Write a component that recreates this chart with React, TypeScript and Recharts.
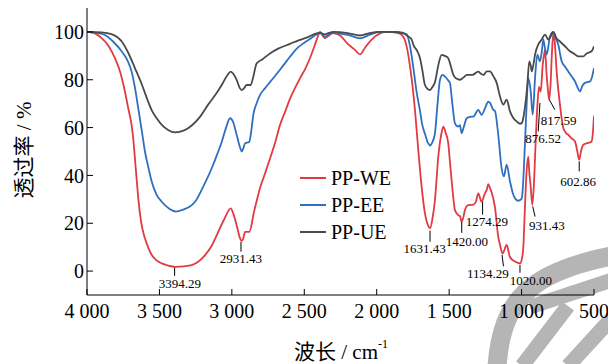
import React from "react";
import {
  Customized,
  Line,
  LineChart,
  ReferenceDot,
  ReferenceLine,
  XAxis,
  YAxis,
} from "recharts";

const SERIF = "'Liberation Serif', 'Times New Roman', 'Noto Sans CJK SC', serif";
const RED = "#e23a43";
const BLUE = "#2e6fc0";
const GRAY = "#4a4a4a";

const xTicks = [4000, 3500, 3000, 2500, 2000, 1500, 1000, 500];
const yTicks = [0, 20, 40, 60, 80, 100];

// PP-WE
const weWavenumber = [
  4000, 3950, 3899, 3850, 3807, 3770, 3738, 3715, 3692, 3680, 3669, 3658, 3646, 3625, 3600, 3575,
  3553, 3520, 3484, 3440, 3392, 3330, 3277, 3230, 3185, 3140, 3094, 3050, 3008, 2990, 2967, 2945,
  2932, 2920, 2909, 2880, 2865, 2852, 2830, 2806, 2770, 2737, 2700, 2668, 2630, 2599, 2560, 2530,
  2490, 2461, 2430, 2403, 2392, 2375, 2357, 2330, 2302, 2253, 2200, 2150, 2115, 2080, 2040, 1977,
  1930, 1850, 1817, 1790, 1770, 1750, 1736, 1713, 1690, 1667, 1645, 1632, 1615, 1598, 1575, 1555,
  1540, 1525, 1506, 1495, 1483, 1470, 1460, 1437, 1425, 1414, 1400, 1391, 1368, 1333, 1315, 1299,
  1276, 1253, 1240, 1230, 1218, 1207, 1184, 1161, 1149, 1131, 1103, 1080, 1045, 1011, 995, 988,
  977, 965, 954, 947, 937, 926, 915, 905, 891, 880, 868, 854, 843, 838, 827, 815,
  809, 800, 792, 781, 770, 758, 735, 712, 690, 678, 655, 631, 615, 602, 590, 574,
  540, 517, 505, 500,
];
const weTransmittance = [
  100, 99.5, 97.4, 94, 89, 83, 75, 68, 61, 55, 47, 39, 30.4, 20, 13.7, 9.5,
  6.7, 4.5, 3.2, 2.3, 1.8, 2, 2.5, 4, 6.7, 10.5, 16.4, 22, 26.2, 24, 19.2, 14,
  12.5, 14, 16.4, 16.4, 19, 23.4, 29, 34.6, 41, 47, 54, 61, 67, 72, 77, 80.6,
  85, 89, 94, 98.7, 100, 98.5, 97.4, 98.5, 99.5, 98.5, 95, 92.5, 90.6, 93.5, 96.5, 99.4,
  100, 99.5, 98, 93, 85.5, 76, 67.4, 50.6, 35.3, 24.1, 19, 17.9, 22, 29.7, 47.8, 57,
  60.4, 58, 53.4, 46, 38, 30, 25.5, 23.4, 23, 20.6, 23, 25.5, 27.6, 27.8, 29, 32.5,
  29, 32.5, 34, 36.4, 34.7, 33, 26.8, 14.3, 11, 7.4, 10.9, 5.8, 4, 3.2, 6, 10,
  26.4, 42, 47.8, 41.7, 35.3, 27.7, 36, 50.6, 69, 77, 75, 86.3, 91, 92.5, 82.1, 74,
  71.7, 78, 89.1, 99.6, 95, 83.5, 69.6, 59.8, 57.5, 57, 55.5, 54.2, 50, 46.6, 50, 52.8,
  53.6, 54.2, 60, 65,
];

// PP-EE
const eeWavenumber = [
  4000, 3930, 3876, 3820, 3760, 3720, 3692, 3670, 3646, 3620, 3600, 3575, 3553, 3520, 3484, 3430,
  3385, 3330, 3290, 3254, 3200, 3139, 3100, 3070, 3040, 3013, 2992, 2967, 2945, 2932, 2920, 2909,
  2880, 2865, 2852, 2830, 2806, 2770, 2737, 2690, 2645, 2600, 2552, 2500, 2461, 2420, 2392, 2375,
  2357, 2330, 2302, 2200, 2115, 2050, 1977, 1850, 1793, 1770, 1747, 1725, 1701, 1685, 1667, 1645,
  1632, 1615, 1598, 1580, 1563, 1545, 1529, 1510, 1494, 1478, 1460, 1437, 1425, 1414, 1400, 1379,
  1355, 1333, 1299, 1276, 1253, 1230, 1218, 1195, 1184, 1161, 1138, 1122, 1103, 1080, 1057, 1040,
  1023, 999, 990, 981, 965, 954, 937, 923, 907, 891, 873, 860, 850, 838, 827, 815,
  804, 781, 765, 747, 723, 700, 678, 650, 631, 615, 597, 580, 562, 528, 510, 500,
];
const eeTransmittance = [
  100, 99.6, 98.7, 96, 91.8, 88, 83.4, 77, 68, 58, 50, 43, 37.4, 32, 29, 26,
  24.9, 25.8, 27, 29, 35, 43, 49, 54, 60, 63.9, 62.5, 57, 52, 50, 51.5, 53.4,
  54, 59, 65.3, 70, 73.6, 76.5, 79, 82.5, 86, 89.5, 93, 95.5, 97, 98.8, 99.5, 99,
  98, 99, 99.5, 98.8, 97.3, 98.8, 100, 100, 99, 94, 85, 75, 67, 61, 57.4, 53.5,
  52.5, 54, 57.6, 70, 80, 82, 81.3, 80, 78.5, 70, 61.8, 60.4, 61, 57.6, 60, 63.9,
  64.5, 64.6, 67.4, 65.3, 68, 70.8, 70.3, 67.4, 67, 57, 43.1, 39.6, 44.5, 37.5, 31.9, 30,
  29.4, 30.3, 36, 47.3, 69.6, 80.8, 75.1, 65.4, 80.8, 90.5, 87.7, 92, 96.8, 93, 90.5, 94,
  98.2, 100, 97.5, 94.7, 87.7, 85.5, 83.5, 81, 79.3, 77, 75.1, 77.5, 78.7, 79.3, 82, 85,
];

// PP-UE
const ueWavenumber = [
  4000, 3900, 3827, 3760, 3717, 3670, 3620, 3585, 3551, 3520, 3482, 3440, 3393, 3330, 3275, 3220,
  3165, 3110, 3068, 3030, 3008, 2990, 2967, 2945, 2932, 2915, 2898, 2870, 2855, 2829, 2790, 2737,
  2680, 2599, 2540, 2483, 2420, 2392, 2360, 2330, 2300, 2200, 2115, 2050, 1977, 1908, 1817, 1780,
  1760, 1747, 1720, 1701, 1685, 1667, 1645, 1632, 1615, 1598, 1575, 1552, 1530, 1506, 1490, 1471,
  1450, 1425, 1400, 1379, 1340, 1299, 1280, 1264, 1240, 1218, 1195, 1172, 1149, 1126, 1103, 1080,
  1057, 1034, 1015, 999, 988, 977, 960, 947, 937, 930, 915, 907, 885, 861, 838, 815,
  800, 781, 760, 735, 700, 666, 640, 609, 574, 551, 517, 500,
];
const ueTransmittance = [
  100, 99.8, 99, 96, 91.5, 85, 77.8, 72, 67, 64, 61, 59, 58, 58.8, 61, 64.5,
  69.5, 74, 78, 82, 83.4, 82.5, 79.9, 76.5, 75.7, 76.5, 77.8, 77.8, 80.5, 86.8, 88.5, 91,
  93, 95, 96.5, 97.6, 99.3, 99.7, 99, 99.6, 100, 99.5, 98.5, 99.5, 100, 100, 99.4, 98,
  97, 94.6, 92, 89, 84, 77.8, 76, 75.7, 77, 79, 86, 90.4, 90, 89, 86, 82,
  80.5, 80, 81, 82, 82, 83.4, 82.5, 82, 83.5, 83.5, 81.5, 78.7, 73, 69.6, 71.7, 66.8,
  64, 62.6, 61.7, 61.7, 64, 68.2, 78, 87.7, 86, 83.5, 87.5, 90.5, 94.7, 96.8, 98.9, 96.8,
  98, 100, 97.5, 96, 94, 91.9, 91, 89.8, 89.8, 91, 91.9, 94,
];

const seriesNames = ["PP-WE", "PP-EE", "PP-UE"];
const seriesColors = [RED, BLUE, GRAY];

// peak annotations: label, tick segment (from, to) and label centre, all in data units
const peakLabels = ["3394.29", "2931.43", "1631.43", "1420.00", "1274.29", "1134.29", "1020.00", "931.43", "876.52", "817.59", "602.86"];
const peakTickFrom = [[3395, 1.4], [2937, 12.2], [1632, 16.9], [1413, 20.6], [1269, 29], [1135, 6.8], [1011, 2.6], [923, 27], [873, 70.3], [809, 71.7], [602, 45.9]];
const peakTickTo = [[3395, -2], [2937, 8.1], [1632, 12.3], [1413, 16], [1269, 23.6], [1125, 2], [1011, -0.7], [907, 22.8], [885, 58.4], [770, 67.5], [602, 41.7]];
const peakTextAt = [[3358, -5.1], [2937, 5.4], [1670, 9.5], [1377, 12.5], [1239, 20.8], [1232, -0.9], [935, -3.8], [825, 19.1], [852, 55.6], [745, 63.1], [609, 37.3]];

const toPoints = (wn: number[], t: number[]) => wn.map((w, i) => ({ wn: w, t: t[i] }));

const weData = toPoints(weWavenumber, weTransmittance);
const eeData = toPoints(eeWavenumber, eeTransmittance);
const ueData = toPoints(ueWavenumber, ueTransmittance);

function formatWavenumber(v: number) {
  if (v < 1000) return String(v);
  return `${Math.floor(v / 1000)} ${String(v % 1000).padStart(3, "0")}`;
}

function AxisTitles() {
  return (
    <g fontFamily={SERIF} fill="#000">
      <text
        x={24}
        y={150}
        fontSize={21}
        textAnchor="middle"
        dominantBaseline="central"
        transform="rotate(-90 24 150)"
      >
        透过率 / %
      </text>
      <text x={341} y={352} fontSize={21} textAnchor="middle" dominantBaseline="central">
        波长 / cm
        <tspan fontSize={12} dy={-8}>
          -1
        </tspan>
      </text>
      {seriesNames.map((name, i) => (
        <g key={name}>
          <line x1={300} x2={326} y1={178 + i * 27} y2={178 + i * 27} stroke={seriesColors[i]} strokeWidth={2} />
          <text x={331} y={178 + i * 27} fontSize={20} dominantBaseline="central">
            {name}
          </text>
        </g>
      ))}
    </g>
  );
}

// journal watermark in the lower right corner, sits behind the chart
function Watermark() {
  return (
    <svg width={608} height={364} style={{ position: "absolute", left: 0, top: 0 }}>
      <g fill="none" stroke="#b5b5b5" strokeLinecap="butt">
        <path d="M 497 366 C 502 300, 530 272, 612 256" strokeWidth={19} />
        <path d="M 530 307 L 612 280" strokeWidth={15} />
        <path d="M 568 306 L 522 366" strokeWidth={15} />
        <path d="M 568 366 L 612 318" strokeWidth={15} />
      </g>
    </svg>
  );
}

export default function App() {
  return (
    <div style={{ position: "absolute", left: 0, top: 0, width: 608, height: 364, background: "#fff" }}>
      <Watermark />
      <div style={{ position: "absolute", left: 0, top: 0 }}>
        <LineChart width={608} height={364} margin={{ top: 8, right: 14, bottom: 0, left: 0 }}>
          <XAxis
            dataKey="wn"
            type="number"
            domain={[500, 4000]}
            reversed
            ticks={xTicks}
            allowDataOverflow
            height={69}
            tickSize={-6}
            tickMargin={15}
            tickFormatter={formatWavenumber}
            stroke="#000"
            tick={{ fill: "#000", fontSize: 20, fontFamily: SERIF }}
            interval={0}
          />
          <YAxis
            type="number"
            domain={[-10, 110]}
            ticks={yTicks}
            allowDataOverflow
            width={87}
            tickSize={-6}
            tickMargin={9}
            stroke="#000"
            tick={{ fill: "#000", fontSize: 20, fontFamily: SERIF }}
            interval={0}
          />
          <Line
            data={weData}
            dataKey="t"
            name={seriesNames[0]}
            type="monotone"
            stroke={RED}
            strokeWidth={1.8}
            dot={false}
            isAnimationActive={false}
          />
          <Line
            data={eeData}
            dataKey="t"
            name={seriesNames[1]}
            type="monotone"
            stroke={BLUE}
            strokeWidth={1.8}
            dot={false}
            isAnimationActive={false}
          />
          <Line
            data={ueData}
            dataKey="t"
            name={seriesNames[2]}
            type="monotone"
            stroke={GRAY}
            strokeWidth={1.8}
            dot={false}
            isAnimationActive={false}
          />
          {peakLabels.map((label, i) => (
            <ReferenceLine
              key={`tick-${label}`}
              segment={[
                { x: peakTickFrom[i][0], y: peakTickFrom[i][1] },
                { x: peakTickTo[i][0], y: peakTickTo[i][1] },
              ]}
              stroke="#000"
              strokeWidth={1}
              ifOverflow="visible"
            />
          ))}
          {peakLabels.map((label, i) => (
            <ReferenceDot
              key={`label-${label}`}
              x={peakTextAt[i][0]}
              y={peakTextAt[i][1]}
              ifOverflow="visible"
              shape={(p: any) => (
                <text
                  x={p.cx}
                  y={p.cy}
                  fontSize={13}
                  fontFamily={SERIF}
                  fill="#000"
                  textAnchor="middle"
                  dominantBaseline="central"
                >
                  {label}
                </text>
              )}
            />
          ))}
          <Customized component={AxisTitles} />
        </LineChart>
      </div>
    </div>
  );
}
